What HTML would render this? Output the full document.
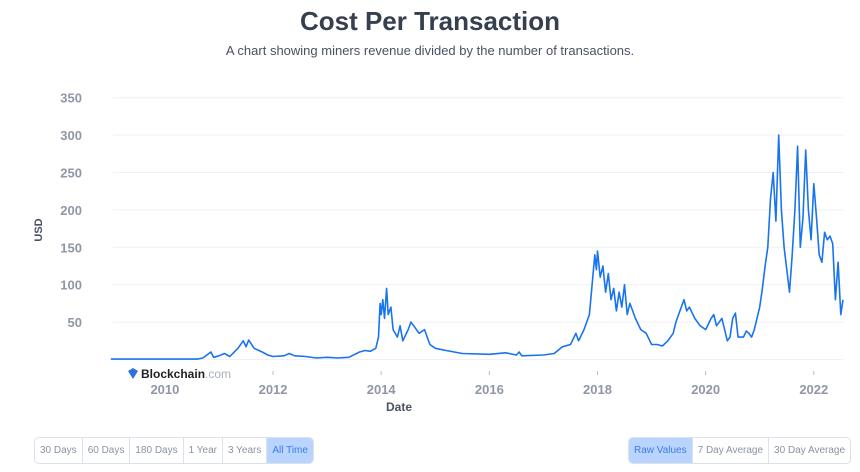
<!DOCTYPE html>
<html><head><meta charset="utf-8">
<style>
body{margin:0;width:860px;height:472px;background:#fff;font-family:"Liberation Sans",sans-serif;overflow:hidden;position:relative}
.t{position:absolute;left:0;width:860px;text-align:center}
.btns{position:absolute;display:flex;border:1px solid #dde1e8;border-radius:5px;overflow:hidden;height:25px;top:437px}
.btns div{font-size:10px;color:#8a93a3;padding:0 5px;line-height:25px;border-right:1px solid #dde1e8}
.btns div:last-child{border-right:none}
.btns .on{background:#b9d5ff;color:#3f7be0}
</style></head><body>
<div class="t" style="top:6px;font-size:26px;font-weight:bold;color:#353f4d">Cost Per Transaction</div>
<div class="t" style="top:43px;font-size:13px;color:#4a5160">A chart showing miners revenue divided by the number of transactions.</div>
<svg id="c" width="860" height="472" style="position:absolute;left:0;top:0"></svg>
<div class="btns" style="left:34px">
<div>30 Days</div><div>60 Days</div><div>180 Days</div><div>1 Year</div><div>3 Years</div><div class="on">All Time</div>
</div>
<div class="btns" style="left:628px">
<div class="on">Raw Values</div><div>7 Day Average</div><div>30 Day Average</div>
</div>
<script>
const yTicks=[50,100,150,200,250,300,350];
const xTicks=[2010,2012,2014,2016,2018,2020,2022];
const dates=[2009.0,2010.6,2010.7,2010.85,2010.9,2011.0,2011.1,2011.2,2011.35,2011.45,2011.5,2011.55,2011.65,2011.8,2011.9,2012.0,2012.2,2012.3,2012.4,2012.6,2012.8,2013.0,2013.2,2013.4,2013.6,2013.7,2013.8,2013.9,2013.95,2013.98,2014.0,2014.03,2014.06,2014.1,2014.13,2014.18,2014.22,2014.3,2014.35,2014.4,2014.5,2014.55,2014.6,2014.7,2014.8,2014.9,2015.0,2015.2,2015.5,2016.0,2016.3,2016.5,2016.55,2016.6,2017.0,2017.2,2017.35,2017.5,2017.6,2017.65,2017.75,2017.85,2017.9,2017.95,2017.98,2018.0,2018.05,2018.1,2018.15,2018.2,2018.25,2018.3,2018.35,2018.4,2018.45,2018.5,2018.55,2018.6,2018.7,2018.8,2018.9,2019.0,2019.1,2019.2,2019.3,2019.4,2019.45,2019.5,2019.6,2019.65,2019.7,2019.8,2019.9,2020.0,2020.1,2020.15,2020.2,2020.3,2020.35,2020.4,2020.45,2020.5,2020.55,2020.6,2020.7,2020.75,2020.8,2020.85,2020.9,2020.95,2021.0,2021.05,2021.1,2021.15,2021.2,2021.25,2021.3,2021.35,2021.4,2021.45,2021.5,2021.55,2021.6,2021.65,2021.7,2021.75,2021.8,2021.85,2021.9,2021.95,2022.0,2022.05,2022.1,2022.15,2022.2,2022.25,2022.3,2022.35,2022.4,2022.45,2022.5,2022.54];
const values=[0.5,0.5,2,10,3,5,8,4,15,25,17,26,15,10,6,4,5,8,5,4,2,3,2,3,10,12,11,15,30,75,60,80,55,95,60,70,40,30,45,25,40,50,45,35,40,20,15,12,8,7,9,6,10,5,6,8,17,20,35,25,40,60,100,140,120,145,110,125,90,115,80,95,65,90,70,100,60,75,55,40,35,20,20,18,25,35,50,60,80,65,70,55,45,40,55,60,45,55,40,25,30,55,62,30,30,38,35,30,40,55,70,95,125,150,215,250,185,300,200,150,120,90,140,200,285,150,190,280,200,160,235,190,140,130,170,160,165,155,80,130,60,80];
const svg=document.getElementById('c'),NS='http://www.w3.org/2000/svg';
const X0=113,X1=843,D0=2009.04,D1=2022.54,Y0=359.5,PX=37.4/50;
const xs=d=>X0+(d-D0)/(D1-D0)*(X1-X0), ys=v=>Y0-v*PX;
function mk(tag,at,txt){const e=document.createElementNS(NS,tag);for(const k in at)e.setAttribute(k,at[k]);if(txt!=null)e.textContent=txt;svg.appendChild(e);return e;}
for(const v of [0,...yTicks]){const l=mk('line',{x1:X0,x2:X1,y1:ys(v),y2:ys(v),stroke:'#f0f1f4','stroke-width':1});

}
for(const v of yTicks){const t=mk('text',{x:82,y:ys(v)+5,'text-anchor':'end','font-size':13,fill:'#8f97a6','font-weight':'bold'},v);

}
for(const d of xTicks){const t=mk('text',{x:xs(d),y:394,'text-anchor':'middle','font-size':13,fill:'#8f97a6','font-weight':'bold'},d);


if(d>2010){const k=mk('line',{x1:xs(d),x2:xs(d),y1:371,y2:375,stroke:'#b8bfca'});

}}
const yt=mk('text',{x:42,y:230,'text-anchor':'middle','font-size':11,'font-weight':'bold',fill:'#4a5160',transform:'rotate(-90 42 230)'},'USD');


const xt=mk('text',{x:399,y:411,'text-anchor':'middle','font-size':12,'font-weight':'bold',fill:'#4a5160'},'Date');


const lg=mk('polygon',{points:'128,371 133,368 138,371 133,379',fill:'#2f6fe0'});


const lt=mk('text',{x:141,y:378,'font-size':12,'font-weight':'bold',fill:'#222'},'Blockchain');


mk('tspan',{fill:'#a9b0bc','font-weight':'normal'},'.com');
lt.appendChild(svg.lastChild);
let p='';dates.forEach((d,i)=>{p+=(i?'L':'M')+xs(d).toFixed(1)+','+ys(values[i]).toFixed(1);});
const ln=mk('path',{d:p,fill:'none',stroke:'#1a73f0','stroke-width':1.6,'stroke-linejoin':'round'});


</script>
</body></html>
